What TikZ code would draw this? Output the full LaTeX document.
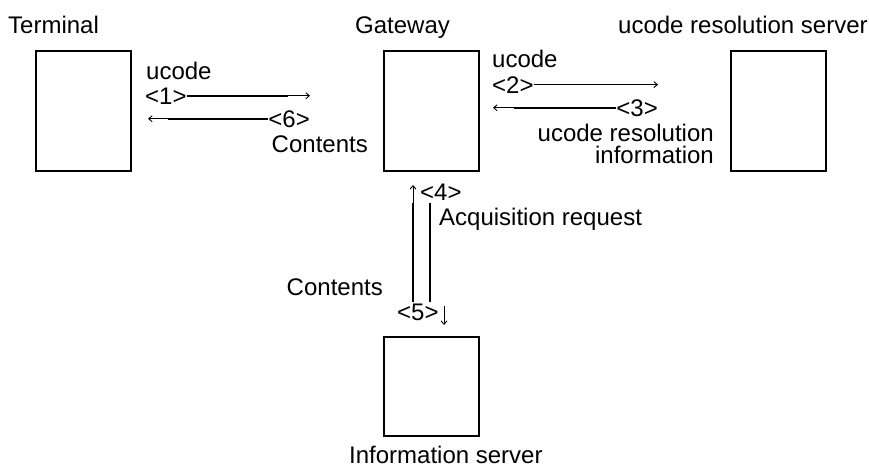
\documentclass[tikz,border=0pt]{standalone}
\usepackage{fontspec}
\setmainfont{Liberation Sans}
\usetikzlibrary{arrows.meta}
\begin{document}
\begin{tikzpicture}[x=1pt,y=-1pt,
  box/.style={draw,line width=1.8pt,minimum width=95pt,inner sep=0pt,anchor=north west},
  lbl/.style={inner sep=0pt,anchor=base west,font=\fontsize{24}{28}\selectfont},
  lblr/.style={lbl,anchor=base east},
  shaft/.style={line width=1.7pt},
  head/.style={line width=0.9pt,-{Straight Barb[length=3.5pt,width=6pt]}}]
\useasboundingbox[fill=white] (0,0) rectangle (869,469);

% the four parties
\node[box,minimum height=120pt] (term) at (35,50) {};
\node[box,minimum height=120pt] (gate) at (383,50) {};
\node[box,minimum height=120pt] (res) at (730,50) {};
\node[box,minimum height=99pt] (info) at (383,336) {};

\node[lbl] (tTerm) at (8,33) {Terminal};
\node[lbl] (tGate) at (355,33) {Gateway};
\node[lbl] (tRes) at (618,33) {ucode resolution server};
\node[lbl] (tInfo) at (349,463) {Information server};

% terminal <-> gateway
\node[lbl] (u1) at (146,79) {ucode};
\node[lbl] (n1) at (145,104) {<1>};
\coordinate (a1m) at (288,0 |- n1.east);
\coordinate (a1e) at (310,0 |- n1.east);
\draw[shaft] (n1.east) -- (a1m);
\draw[head] (a1m) -- (a1e);

\node[lblr] (n6) at (310,127) {<6>};
\coordinate (a6m) at (168,0 |- n6.west);
\coordinate (a6e) at (148,0 |- n6.west);
\draw[shaft] (n6.west) -- (a6m);
\draw[head] (a6m) -- (a6e);
\node[lblr] (c1) at (368,152) {Contents};

% gateway <-> resolution server
\node[lbl] (u2) at (492,67) {ucode};
\node[lbl] (n2) at (492,93) {<2>};
\coordinate (a2m) at (633,0 |- n2.east);
\coordinate (a2e) at (658,0 |- n2.east);
\draw[shaft] (n2.east) -- (a2m);
\draw[head] (a2m) -- (a2e);

\node[lblr] (n3) at (658,116) {<3>};
\coordinate (a3m) at (514,0 |- n3.west);
\coordinate (a3e) at (493,0 |- n3.west);
\draw[shaft] (n3.west) -- (a3m);
\draw[head] (a3m) -- (a3e);
\node[lblr] (r1) at (714,141) {ucode resolution};
\node[lblr] (r2) at (714,163) {information};

% gateway <-> information server
\coordinate (v4b) at (413,302);
\coordinate (v4m) at (413,203);
\coordinate (v4e) at (413,185);
\draw[shaft] (v4b) -- (v4m);
\draw[head] (v4m) -- (v4e);
\node[lbl] (n4) at (420,200) {<4>};
\node[lbl] (q4) at (439,225) {Acquisition request};

\coordinate (v5t) at (430,203);
\coordinate (v5b) at (430,302);
\draw[shaft] (v5t) -- (v5b);
\coordinate (d5s) at (444,306);
\coordinate (d5e) at (444,325);
\draw[head] (d5s) -- (d5e);
\node[lblr] (c2) at (383,295) {Contents};
\node[lbl] (n5) at (397,320) {<5>};
\end{tikzpicture}
\end{document}
